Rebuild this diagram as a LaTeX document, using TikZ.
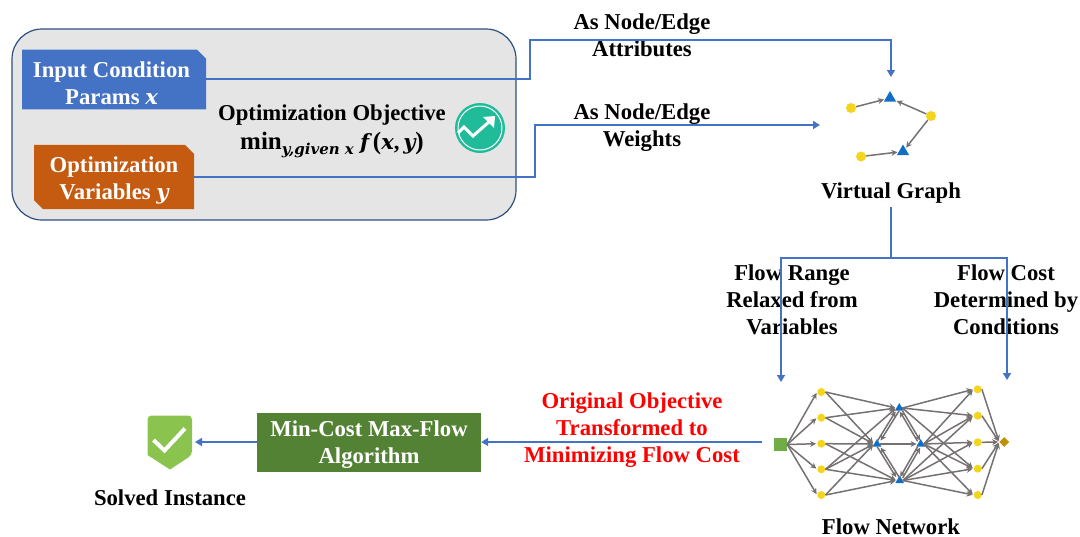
\documentclass[tikz,border=0pt]{standalone}
\usepackage{fontspec}
\setmainfont{Liberation Serif}
\newfontfamily\varface{DejaVu Serif}
\usepackage{tikz}
\usetikzlibrary{arrows,shapes,shapes.misc,shapes.geometric,arrows.meta}
\definecolor{linkblue}{HTML}{4472C4}
\definecolor{panelgray}{HTML}{E5E5E5}
\definecolor{panelline}{HTML}{2F4F7F}
\definecolor{varorange}{HTML}{C55A11}
\definecolor{algogreen}{HTML}{548235}
\definecolor{srcgreen}{HTML}{70AD47}
\definecolor{sinkgold}{HTML}{BF9000}
\definecolor{edgegray}{HTML}{767171}
\definecolor{vtxyellow}{HTML}{F2D51C}
\definecolor{vtxblue}{HTML}{0F6FC6}
\definecolor{icongreen}{HTML}{20BC9A}
\definecolor{shieldgreen}{HTML}{8BC34F}
\tikzset{
  lbl/.style={align=center,inner sep=0pt,font=\fontsize{22.7}{27}\selectfont\bfseries},
  chipbox/.style={chamfered rectangle,chamfered rectangle xsep=4.5pt,chamfered rectangle ysep=4.5pt,
    inner sep=0pt,text=white,align=center,minimum height=59pt,text height=50.6pt,
    font=\fontsize{22.7}{27}\selectfont\bfseries},
  link/.style={draw=linkblue,line width=1.5pt},
  linkarr/.style={link,-{Triangle[length=7pt,width=8pt]}},
  yel/.style={circle,fill=vtxyellow,inner sep=0pt,minimum size=10pt},
  blu/.style={regular polygon,regular polygon sides=3,fill=vtxblue,inner sep=0pt,minimum size=14pt},
  netyel/.style={yel,minimum size=8pt},
  netblu/.style={blu,minimum size=10pt},
  wire/.style={draw=edgegray,line width=1.5pt,-{Stealth[length=6pt,width=6pt]},shorten >=1pt},
}
\newcommand{\mvar}[1]{{\varface\fontsize{21}{27}\selectfont\bfseries\itshape #1}}
\newcommand{\msub}[1]{\raisebox{-5pt}{\varface\fontsize{15}{15}\selectfont\bfseries\itshape #1}}
\begin{document}
\begin{tikzpicture}[x=1pt,y=-1pt]
        \useasboundingbox (0,0) rectangle (1080,536);

        % objective panel
        \draw[draw=panelline,fill=panelgray,line width=1.2pt,rounded corners=30pt] (12,29) rectangle (516,220);
        \node[chipbox,fill=linkblue,minimum width=184pt,chamfered rectangle corners=north east] (params) at (114,79.5) {Input Condition\hspace*{5pt}\\Params \mvar{x}\hspace*{5pt}};
        \node[chipbox,fill=varorange,minimum width=160pt,chamfered rectangle corners={north east,south west}] (vars) at (114,177) {Optimization\\Variables \mvar{y}};
        \draw (332,131.5) node[lbl] (objective) {Optimization Objective\\[2pt]{\fontsize{25}{27}\selectfont min}\msub{y,given x}\;\mvar{f}\,{\fontsize{25}{27}\selectfont (}\mvar{x},\,\mvar{y}{\fontsize{25}{27}\selectfont )}};

        % chart icon
        \node[circle,fill=icongreen,minimum size=50pt,inner sep=0pt] (icon) at (480,128) {};
        \draw[white,line width=1pt] (icon) circle (22pt);
        \draw[white,line width=3pt] (458,133) -- (464,127) -- (473,136) -- (490,121);
        \fill[white] (483,117) -- (495,116) -- (494,128) -- cycle;

        % virtual graph
        \node[yel] (g1) at (851,108) {};
        \node[blu] (g2) at (890,98) {};
        \node[yel] (g3) at (931,116) {};
        \node[yel] (g4) at (861,156.5) {};
        \node[blu] (g5) at (903,151.5) {};
        \draw[wire] (g1) -- (g2);
        \draw[wire] (g3) -- (g2);
        \draw[wire] (g3) -- (g5);
        \draw[wire] (g4) -- (g5);
        \draw (891,193.5) node[lbl] (virtual) {Virtual Graph};

        % flow network
        \node[rectangle,fill=srcgreen,minimum size=13pt,inner sep=0pt] (src) at (780.5,444.5) {};
        \foreach \i/\y in {1/392,2/417.7,3/443.7,4/469.3,5/495}
          \node[netyel] (a\i) at (821.3,\y) {};
        \foreach \i/\y in {1/389.3,2/415.7,3/442.3,4/468.7,5/495}
          \node[netyel] (c\i) at (977.7,\y) {};
        \node[netblu] (top) at (899.3,408) {};
        \node[netblu] (lft) at (877,444) {};
        \node[netblu] (rgt) at (920.7,444) {};
        \node[netblu] (bot) at (899.7,480.5) {};
        \node[diamond,fill=sinkgold,minimum size=10pt,inner sep=0pt] (snk) at (1004.3,442) {};

        \foreach \i in {1,...,5} {
          \draw[wire] (src.east) -- (a\i.west);
          \draw[wire] (c\i.east) -- (snk.west);
        }
        \foreach \u/\v in {a1/top,a1/lft,a2/top,a2/lft,a3/lft,a3/bot,a4/lft,a4/top,a4/bot,a5/lft,a5/bot,
                           top/c1,top/c2,top/c4,rgt/c1,rgt/c2,rgt/c3,rgt/c4,rgt/c5,bot/c2,bot/c3,bot/c4,bot/c5,
                           lft/rgt}
          \draw[wire] (\u.east) -- (\v.west);
        \foreach \u/\v in {top/lft,top/rgt,bot/lft,bot/rgt} {
          \draw[wire,transform canvas={xshift=1.5pt}] (\u) -- (\v);
          \draw[wire,transform canvas={xshift=-1.5pt}] (\v) -- (\u);
        }
        \draw (891,527) node[lbl] (flownet) {Flow Network};

        % algorithm and result
        \node[rectangle,fill=algogreen,text=white,align=center,minimum width=224pt,minimum height=59pt,inner sep=0pt,
              text height=46.6pt,font=\fontsize{22.7}{27}\selectfont\bfseries] (algo) at (369,442.5) {Min-Cost Max-Flow\\Algorithm};
        \coordinate (solved) at (195,442);
        \fill[shieldgreen,rounded corners=4pt] (147.5,455) -- (147.5,415.5) -- (192,415.5) -- (192,455) [sharp corners] -- (170,469.5) -- cycle;
        \draw[white,line width=4pt] (153.5,440) -- (164.5,450.5) -- (185,428.5);
        \draw (170,498) node[lbl] (solvedlbl) {Solved Instance};

        % link labels
        \draw (642,35) node[lbl] (attr) {As Node/Edge\\Attributes};
        \draw (642,127.5) node[lbl] (wght) {As Node/Edge\\Weights};
        \draw (792,300) node[lbl] (range) {Flow Range\\Relaxed from\\Variables};
        \draw (1006,300) node[lbl] (cost) {Flow Cost\\Determined by\\Conditions};
        \draw (632,430) node[lbl,text=red] (trans) {Original Objective\\Transformed to\\Minimizing Flow Cost};

        % params to graph
        \coordinate (gtop) at (891,77);
        \draw[linkarr] (params.east |- 0,79) -- (530,79) -- (530,40) -- (891,40) -- (gtop);

        % vars to graph
        \coordinate (gleft) at (820,125);
        \draw[linkarr] (vars.east |- 0,177) -- (535,177) -- (535,125) -- (gleft);

        % graph to flow network
        \coordinate (vout) at (891,207);
        \coordinate (ninl) at (781,382);
        \coordinate (ninr) at (1007,380);
        \draw[link] (vout) -- (891,258);
        \draw[linkarr] (891,258) -- (781,258) -- (ninl);
        \draw[linkarr] (891,258) -- (1007,258) -- (ninr);

        % flow network to algorithm to result
        \coordinate (nout) at (762,442);
        \draw[linkarr] (nout) -- (algo.east |- 0,442);
        \draw[linkarr] (algo.west |- 0,442) -- (solved);
      \end{tikzpicture}
\end{document}
